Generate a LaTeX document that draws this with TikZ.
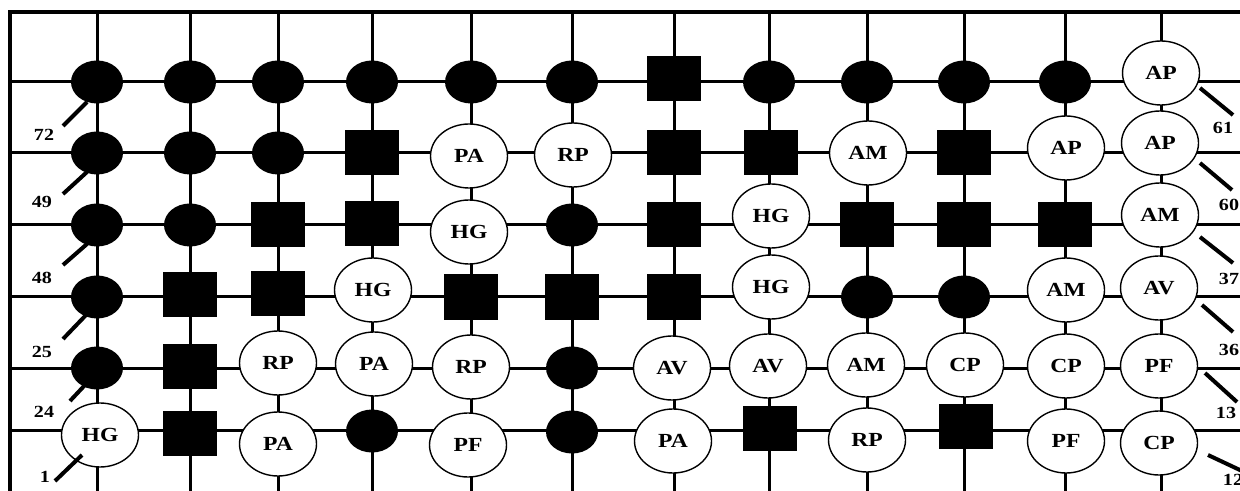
\documentclass[tikz,border=0pt]{standalone}
\usepackage{fontspec}
\setmainfont{Liberation Serif}[FakeStretch=1.18]
\usetikzlibrary{shapes.geometric}

\begin{document}
\begin{tikzpicture}[x=0.5pt,y=-0.5pt,
  gridline/.style={line width=1.5pt},
  frame/.style={line width=2.25pt},
  dot/.style={ellipse, fill=black, minimum width=26pt, minimum height=21.5pt, inner sep=0pt},
  blk/.style={rectangle, fill=black, minimum width=27pt, minimum height=22.5pt, inner sep=0pt},
  lab/.style={ellipse, draw, fill=white, line width=0.7pt, minimum width=38.5pt, minimum height=32pt,
    inner sep=0pt, font=\fontsize{10}{12}\selectfont\bfseries},
  num/.style={font=\fontsize{8.5}{10}\selectfont\bfseries, inner sep=0pt},
  tick/.style={line width=2pt}]

\useasboundingbox (0,0) rectangle (1240,491);
\fill[white] (0,0) rectangle (1240,491);

% lattice
\foreach \y in {82,153,225,297,368,430}
  \draw[gridline] (10,\y) -- (1240,\y);
\foreach \x in {97,190,278,372,471,572,674,769,867,964,1065,1161}
  \draw[gridline] (\x,12) -- (\x,491);
\draw[frame] (10,491) -- (10,12) -- (1245,12);

% row 1
\node[dot] (n1-1) at (97,82) {};
\node[dot] (n1-2) at (190,82) {};
\node[dot] (n1-3) at (278,82) {};
\node[dot] (n1-4) at (372,82) {};
\node[dot] (n1-5) at (471,82) {};
\node[dot] (n1-6) at (572,82) {};
\node[blk] (n1-7) at (674,79) {};
\node[dot] (n1-8) at (769,82) {};
\node[dot] (n1-9) at (867,82) {};
\node[dot] (n1-10) at (964,82) {};
\node[dot] (n1-11) at (1065,82) {};
\node[lab] (n1-12) at (1161,73) {AP};

% row 2
\node[dot] (n2-1) at (97,153) {};
\node[dot] (n2-2) at (190,153) {};
\node[dot] (n2-3) at (278,153) {};
\node[blk] (n2-4) at (372,153) {};
\node[lab] (n2-5) at (469,156) {PA};
\node[lab] (n2-6) at (573,155) {RP};
\node[blk] (n2-7) at (674,153) {};
\node[blk] (n2-8) at (771,153) {};
\node[lab] (n2-9) at (868,153) {AM};
\node[blk] (n2-10) at (964,153) {};
\node[lab] (n2-11) at (1066,148) {AP};
\node[lab] (n2-12) at (1160,143) {AP};

% row 3
\node[dot] (n3-1) at (97,225) {};
\node[dot] (n3-2) at (190,225) {};
\node[blk] (n3-3) at (278,225) {};
\node[blk] (n3-4) at (372,224) {};
\node[lab] (n3-5) at (469,232) {HG};
\node[dot] (n3-6) at (572,225) {};
\node[blk] (n3-7) at (674,225) {};
\node[lab] (n3-8) at (771,216) {HG};
\node[blk] (n3-9) at (867,225) {};
\node[blk] (n3-10) at (964,225) {};
\node[blk] (n3-11) at (1065,225) {};
\node[lab] (n3-12) at (1160,215) {AM};

% row 4
\node[dot] (n4-1) at (97,297) {};
\node[blk] (n4-2) at (190,295) {};
\node[blk] (n4-3) at (278,294) {};
\node[lab] (n4-4) at (373,290) {HG};
\node[blk] (n4-5) at (471,297) {};
\node[blk] (n4-6) at (572,297) {};
\node[blk] (n4-7) at (674,297) {};
\node[lab] (n4-8) at (771,287) {HG};
\node[dot] (n4-9) at (867,297) {};
\node[dot] (n4-10) at (964,297) {};
\node[lab] (n4-11) at (1066,290) {AM};
\node[lab] (n4-12) at (1159,288) {AV};

% row 5
\node[dot] (n5-1) at (97,368) {};
\node[blk] (n5-2) at (190,366) {};
\node[lab] (n5-3) at (278,363) {RP};
\node[lab] (n5-4) at (374,364) {PA};
\node[lab] (n5-5) at (471,367) {RP};
\node[dot] (n5-6) at (572,368) {};
\node[lab] (n5-7) at (672,368) {AV};
\node[lab] (n5-8) at (768,366) {AV};
\node[lab] (n5-9) at (866,365) {AM};
\node[lab] (n5-10) at (965,365) {CP};
\node[lab] (n5-11) at (1066,366) {CP};
\node[lab] (n5-12) at (1159,366) {PF};

% row 6
\node[lab] (n6-1) at (100,435) {HG};
\node[blk] (n6-2) at (190,433) {};
\node[lab] (n6-3) at (278,444) {PA};
\node[dot] (n6-4) at (372,431) {};
\node[lab] (n6-5) at (468,445) {PF};
\node[dot] (n6-6) at (572,432) {};
\node[lab] (n6-7) at (673,441) {PA};
\node[blk] (n6-8) at (770,428) {};
\node[lab] (n6-9) at (867,440) {RP};
\node[blk] (n6-10) at (966,426) {};
\node[lab] (n6-11) at (1066,441) {PF};
\node[lab] (n6-12) at (1159,443) {CP};

% left numbering
\node[num] (l72) at (44,135) {72};
\node[num] (l49) at (42,202) {49};
\node[num] (l48) at (42,278) {48};
\node[num] (l25) at (42,352) {25};
\node[num] (l24) at (44,412) {24};
\node[num] (l1)  at (45,477) {1};
\coordinate (e72) at (63,126);
\coordinate (e49) at (63,194);
\coordinate (e48) at (63,265);
\coordinate (e25) at (63,339);
\coordinate (e24) at (70,401);
\coordinate (e1)  at (55,481);
\draw[tick] ([shift={(-10,20)}]n1-1.center) -- (e72);
\draw[tick] ([shift={(-10,19)}]n2-1.center) -- (e49);
\draw[tick] ([shift={(-10,19)}]n3-1.center) -- (e48);
\draw[tick] ([shift={(-10,17)}]n4-1.center) -- (e25);
\draw[tick] ([shift={(-12,17)}]n5-1.center) -- (e24);
\draw[tick] ([shift={(-18,20)}]n6-1.center) -- (e1);

% right numbering
\node[num] (r61) at (1223,128) {61};
\node[num] (r60) at (1229,205) {60};
\node[num] (r37) at (1229,279) {37};
\node[num] (r36) at (1229,350) {36};
\node[num] (r13) at (1226,413) {13};
\node[num] (r12) at (1233,480) {12};
\coordinate (f61) at (1233,115);
\coordinate (f60) at (1232,190);
\coordinate (f37) at (1233,263);
\coordinate (f36) at (1233,332);
\coordinate (f13) at (1237,402);
\coordinate (f12) at (1242,471);
\draw[tick] ([shift={(39,15)}]n1-12.center) -- (f61);
\draw[tick] ([shift={(40,20)}]n2-12.center) -- (f60);
\draw[tick] ([shift={(40,22)}]n3-12.center) -- (f37);
\draw[tick] ([shift={(43,17)}]n4-12.center) -- (f36);
\draw[tick] ([shift={(46,7)}]n5-12.center) -- (f13);
\draw[tick] ([shift={(49,12)}]n6-12.center) -- (f12);
\end{tikzpicture}
\end{document}
